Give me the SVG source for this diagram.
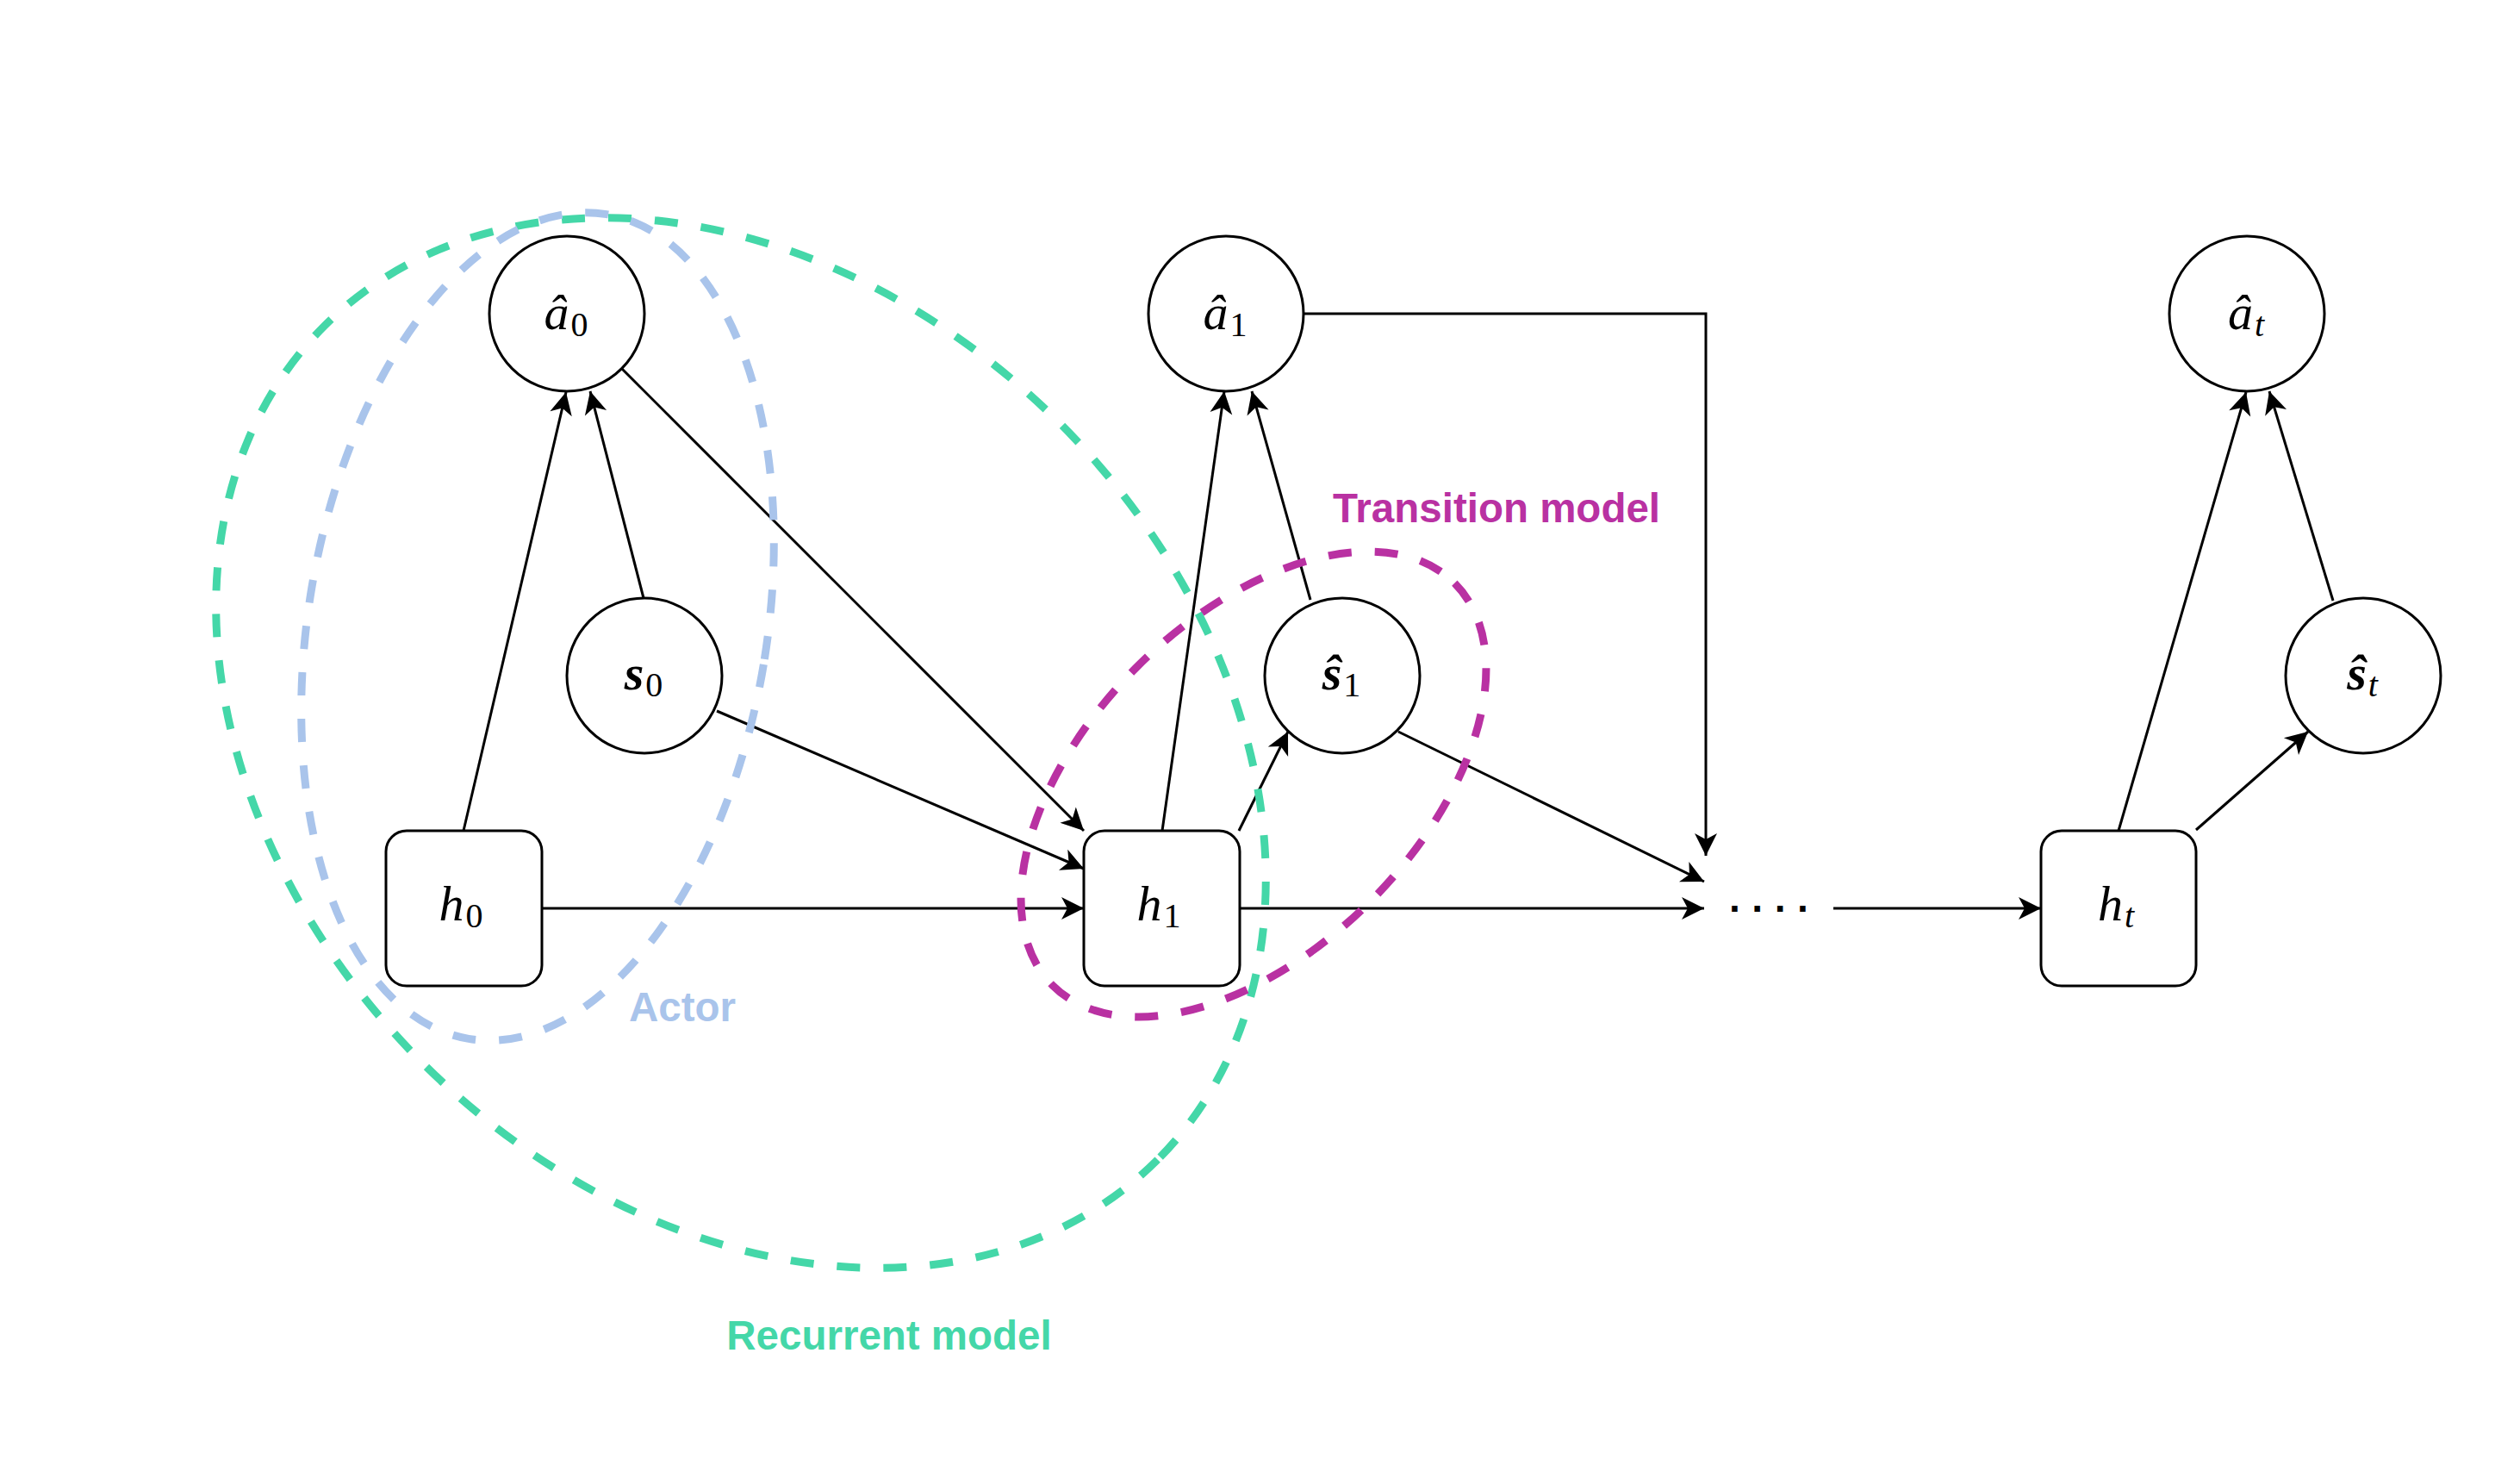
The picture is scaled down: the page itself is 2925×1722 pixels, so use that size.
<svg xmlns="http://www.w3.org/2000/svg" width="2925" height="1722" viewBox="0 0 2925 1722">
<style>
.node{fill:#ffffff;stroke:#000000;stroke-width:3}
.edge{fill:none;stroke:#000000;stroke-width:3}
.grp{fill:none;stroke-width:9;stroke-dasharray:27 27}
.m{font-family:"Liberation Serif","Times New Roman",serif;font-style:italic;font-size:58px;fill:#000}
.sb{font-size:40px;font-style:normal}
.st{font-size:40px;font-style:italic}
.lbl{font-family:"Liberation Sans",Arial,sans-serif;font-weight:bold;font-size:47.5px;text-anchor:middle}
</style>
<defs>
<marker id="arr" markerUnits="userSpaceOnUse" markerWidth="30" markerHeight="30" refX="26" refY="13" orient="auto" overflow="visible">
<path d="M26,13 L0,0 L7,13 L0,26 Z" fill="#000"/>
</marker>
</defs>
<rect width="2925" height="1722" fill="#ffffff"/>

<g id="connectors">
<path class="edge" d="M538,964 L657,455" marker-end="url(#arr)"/>
<path class="edge" d="M747,694 L685,454" marker-end="url(#arr)"/>
<path class="edge" d="M722,428 L1258,964" marker-end="url(#arr)"/>
<path class="edge" d="M832,825 L1258,1008" marker-end="url(#arr)"/>
<path class="edge" d="M629,1054 L1258,1054" marker-end="url(#arr)"/>
<path class="edge" d="M1349,964 L1421,454" marker-end="url(#arr)"/>
<path class="edge" d="M1521,696 L1453,454" marker-end="url(#arr)"/>
<path class="edge" d="M1438,964 L1495,849" marker-end="url(#arr)"/>
<path class="edge" d="M1623,849 L1978,1023" marker-end="url(#arr)"/>
<path class="edge" d="M1439,1054 L1978,1054" marker-end="url(#arr)"/>
<path class="edge" d="M1513,364 L1980,364 L1980,993" marker-end="url(#arr)"/>
<path class="edge" d="M2128,1054 L2369,1054" marker-end="url(#arr)"/>
<path class="edge" d="M2459,964 L2607,455" marker-end="url(#arr)"/>
<path class="edge" d="M2708,697 L2634,454" marker-end="url(#arr)"/>
<path class="edge" d="M2549,963 L2679,849" marker-end="url(#arr)"/>
</g>

<g id="recurrent-model">
<ellipse class="grp" stroke="#44D7A8" cx="860" cy="862" rx="684" ry="524" transform="rotate(45 860 862)"/>
<text class="lbl" fill="#44D7A8" x="1032" y="1566">Recurrent model</text>
</g>
<g id="actor">
<ellipse class="grp" stroke="#A9C4EB" cx="624" cy="727" rx="266" ry="485" transform="rotate(9.5 624 727)"/>
<text class="lbl" fill="#A9C4EB" x="792" y="1185">Actor</text>
</g>
<g id="transition-model">
<ellipse class="grp" stroke="#B931A2" cx="1455" cy="910" rx="330" ry="192" transform="rotate(-45 1455 910)"/>
<text class="lbl" fill="#B931A2" x="1737" y="606">Transition model</text>
</g>

<g id="a0"><circle class="node" cx="658" cy="364" r="90"/><text class="m" x="657" y="382" text-anchor="middle">â<tspan class="sb" dx="2" dy="8">0</tspan></text></g>
<g id="s0"><circle class="node" cx="748" cy="784" r="90"/><text class="m" x="747" y="800" text-anchor="middle" font-weight="bold">s<tspan class="sb" dx="2" dy="8" font-weight="normal">0</tspan></text></g>
<g id="h0"><rect class="node" x="448" y="964" width="181" height="180" rx="24"/><text class="m" x="535" y="1068" text-anchor="middle">h<tspan class="sb" dx="2" dy="8">0</tspan></text></g>

<g id="a1"><circle class="node" cx="1423" cy="364" r="90"/><text class="m" x="1422" y="382" text-anchor="middle">â<tspan class="sb" dx="2" dy="8">1</tspan></text></g>
<g id="s1"><circle class="node" cx="1558" cy="784" r="90"/><text class="m" x="1557" y="800" text-anchor="middle" font-weight="bold">ŝ<tspan class="sb" dx="2" dy="8" font-weight="normal">1</tspan></text></g>
<g id="h1"><rect class="node" x="1258" y="964" width="181" height="180" rx="24"/><text class="m" x="1345" y="1068" text-anchor="middle">h<tspan class="sb" dx="2" dy="8">1</tspan></text></g>

<g id="dots"><text x="2007" y="1070" font-family="Liberation Sans, Arial, sans-serif" font-size="46" letter-spacing="11" font-weight="bold">····</text></g>

<g id="at"><circle class="node" cx="2608" cy="364" r="90"/><text class="m" x="2607" y="382" text-anchor="middle">â<tspan class="st" dx="2" dy="8">t</tspan></text></g>
<g id="st"><circle class="node" cx="2743" cy="784" r="90"/><text class="m" x="2742" y="800" text-anchor="middle" font-weight="bold">ŝ<tspan class="st" dx="2" dy="8" font-weight="normal">t</tspan></text></g>
<g id="ht"><rect class="node" x="2369" y="964" width="180" height="180" rx="24"/><text class="m" x="2456" y="1068" text-anchor="middle">h<tspan class="st" dx="2" dy="8">t</tspan></text></g>
</svg>
